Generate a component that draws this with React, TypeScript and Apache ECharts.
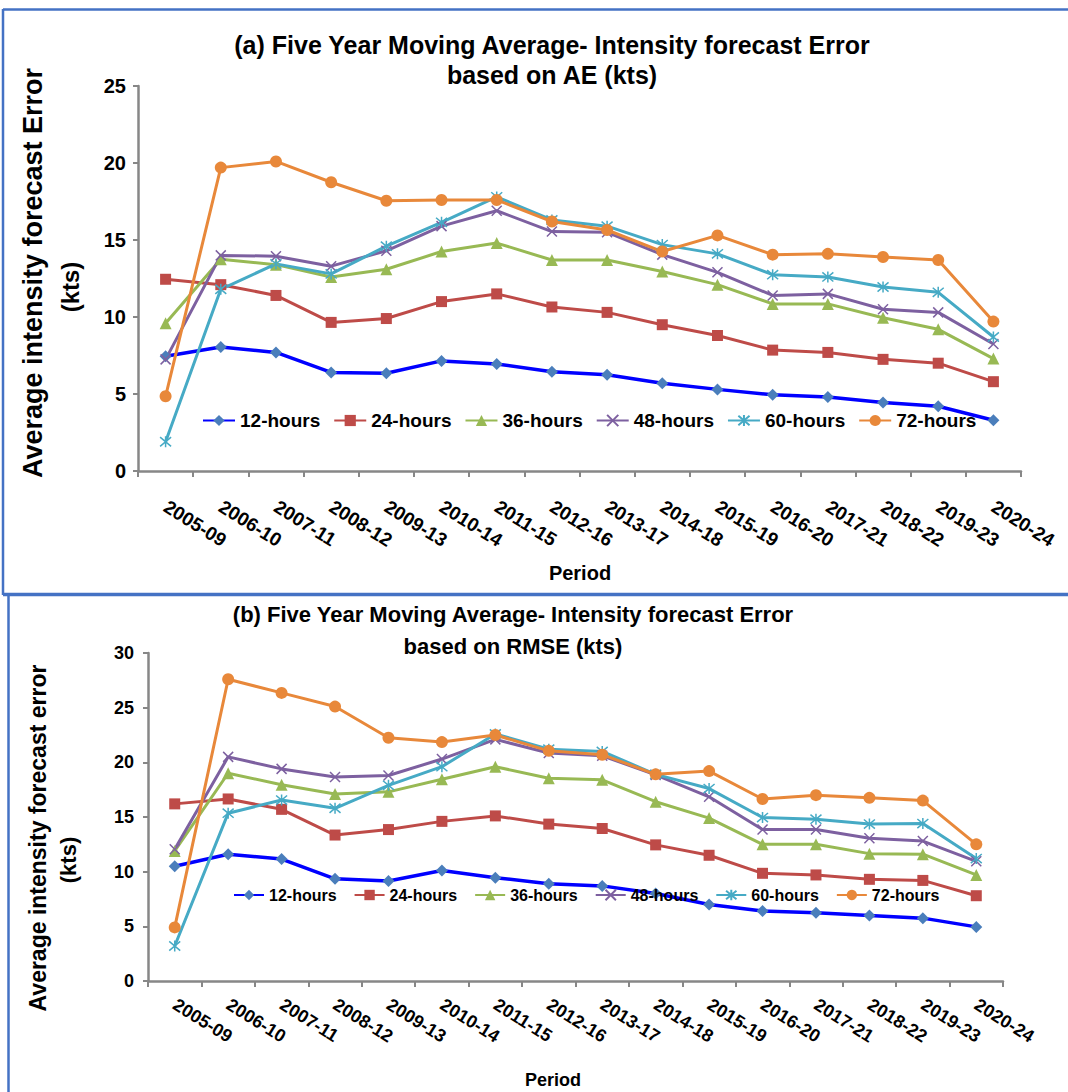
import React, { useEffect, useRef } from 'react';
import * as echarts from 'echarts';

const periods = ['2005-09', '2006-10', '2007-11', '2008-12', '2009-13', '2010-14', '2011-15', '2012-16',
  '2013-17', '2014-18', '2015-19', '2016-20', '2017-21', '2018-22', '2019-23', '2020-24'];
const seriesNames = ['12-hours', '24-hours', '36-hours', '48-hours', '60-hours', '72-hours'];

// (a) AE
const ae12 = [7.45, 8.05, 7.7, 6.4, 6.35, 7.15, 6.95, 6.45, 6.25, 5.7, 5.3, 4.95, 4.8, 4.45, 4.2, 3.3];
const ae24 = [12.45, 12.1, 11.4, 9.65, 9.9, 11.0, 11.5, 10.65, 10.3, 9.5, 8.8, 7.85, 7.7, 7.25, 7.0, 5.8];
const ae36 = [9.6, 13.75, 13.4, 12.6, 13.1, 14.25, 14.8, 13.7, 13.7, 12.95, 12.1, 10.85, 10.85, 9.95, 9.2, 7.3];
const ae48 = [7.25, 14.0, 13.95, 13.3, 14.3, 15.9, 16.9, 15.55, 15.5, 14.05, 12.9, 11.4, 11.5, 10.5, 10.3, 8.25];
const ae60 = [1.9, 11.8, 13.45, 12.8, 14.6, 16.15, 17.8, 16.3, 15.9, 14.7, 14.1, 12.75, 12.6, 11.95, 11.6, 8.7];
const ae72 = [4.85, 19.7, 20.1, 18.75, 17.55, 17.6, 17.6, 16.2, 15.65, 14.25, 15.3, 14.05, 14.1, 13.9, 13.7, 9.7];

// (b) RMSE
const rm12 = [10.5, 11.6, 11.15, 9.35, 9.15, 10.1, 9.45, 8.9, 8.7, 8.0, 7.0, 6.4, 6.25, 6.0, 5.75, 4.95];
const rm24 = [16.2, 16.65, 15.7, 13.35, 13.85, 14.6, 15.1, 14.35, 13.95, 12.45, 11.5, 9.85, 9.7, 9.3, 9.2, 7.8];
const rm36 = [11.9, 19.0, 17.95, 17.1, 17.3, 18.45, 19.6, 18.55, 18.4, 16.4, 14.9, 12.5, 12.5, 11.65, 11.6, 9.7];
const rm48 = [12.05, 20.5, 19.4, 18.65, 18.8, 20.3, 22.1, 20.85, 20.6, 18.85, 16.85, 13.85, 13.85, 13.05, 12.8, 10.95];
const rm60 = [3.2, 15.35, 16.55, 15.8, 17.9, 19.6, 22.6, 21.2, 21.0, 18.9, 17.6, 14.95, 14.8, 14.35, 14.4, 11.2];
const rm72 = [4.9, 27.6, 26.35, 25.1, 22.25, 21.85, 22.5, 21.05, 20.7, 18.9, 19.2, 16.65, 17.0, 16.75, 16.5, 12.5];

const aeTicks = [0, 5, 10, 15, 20, 25];
const rmTicks = [0, 5, 10, 15, 20, 25, 30];

const FONT = "'Liberation Sans', Arial, sans-serif";
const X_PATH = 'path://M0,0L10,10M10,0L0,10';
const STAR_PATH = 'path://M0,1L10,11M10,1L0,11M5,0L5,12';

const styles = [
  { line: '#0000FF', mark: '#4A7EBB', symbol: 'diamond', size: 12, width: 3.5, stroke: false },
  { line: '#BE4B48', mark: '#BE4B48', symbol: 'rect', size: 11, width: 3, stroke: false },
  { line: '#98B954', mark: '#98B954', symbol: 'triangle', size: 12, width: 3, stroke: false },
  { line: '#7D60A0', mark: '#7D60A0', symbol: X_PATH, size: 10, width: 3, stroke: true },
  { line: '#46AAC5', mark: '#46AAC5', symbol: STAR_PATH, size: 11, width: 3, stroke: true },
  { line: '#E8883A', mark: '#E8883A', symbol: 'circle', size: 12, width: 3, stroke: false },
];

function buildSeries(gridIdx: number, datasets: number[][]) {
  return datasets.map((d, i) => {
    const s = styles[i];
    return {
      type: 'line',
      name: seriesNames[i],
      xAxisIndex: gridIdx,
      yAxisIndex: gridIdx,
      data: d,
      symbol: s.symbol,
      symbolSize: s.size,
      showAllSymbol: true,
      lineStyle: { color: s.line, width: s.width },
      itemStyle: s.stroke
        ? { color: s.mark, borderColor: s.mark, borderWidth: 1.5 }
        : { color: s.mark, borderWidth: 0 },
      emphasis: { disabled: true },
    };
  });
}

function yAxis(gridIdx: number, ticks: number[], fontSize: number, margin: number) {
  return {
    type: 'value',
    gridIndex: gridIdx,
    min: ticks[0],
    max: ticks[ticks.length - 1],
    interval: ticks[1] - ticks[0],
    axisLine: { show: true, lineStyle: { color: '#878787', width: 2.5 } },
    axisTick: { show: true, length: 5, lineStyle: { color: '#878787', width: 2 } },
    splitLine: { show: false },
    axisLabel: { color: '#000', fontFamily: FONT, fontWeight: 'bold', fontSize, margin },
  };
}

function xAxis(gridIdx: number, fontSize: number, margin: number) {
  return {
    type: 'category',
    gridIndex: gridIdx,
    data: periods,
    boundaryGap: true,
    axisLine: { show: true, lineStyle: { color: '#878787', width: 2.5 } },
    axisTick: { show: true, length: 6, alignWithLabel: false, lineStyle: { color: '#878787', width: 2 } },
    axisLabel: { color: '#000', fontFamily: FONT, fontWeight: 'bold', fontSize, rotate: -32, margin, interval: 0 },
  };
}

function vText(x: number, y: number, text: string, size: number) {
  return {
    type: 'text',
    x, y,
    rotation: Math.PI / 2,
    style: {
      text, fill: '#000', font: `bold ${size}px ${FONT}`,
      align: 'center', verticalAlign: 'middle', textAlign: 'center', textVerticalAlign: 'middle',
    },
  };
}

function hText(x: number, y: number, text: string, size: number) {
  return {
    type: 'text',
    x, y,
    style: {
      text, fill: '#000', font: `bold ${size}px ${FONT}`,
      align: 'center', verticalAlign: 'middle', textAlign: 'center', textVerticalAlign: 'middle',
    },
  };
}

export default function App() {
  const ref = useRef<HTMLDivElement>(null);
  useEffect(() => {
    if (!ref.current) return;
    const chart = echarts.init(ref.current, undefined, { renderer: 'svg' });
    const option = {
      animation: false,
      backgroundColor: '#fff',
      title: [
        {
          text: '(a) Five Year Moving Average- Intensity forecast Error\nbased on AE (kts)',
          left: 552, top: 30, textAlign: 'center',
          textStyle: { fontFamily: FONT, fontWeight: 'bold', fontSize: 25, lineHeight: 30, color: '#000' },
          padding: 0,
        },
        {
          text: '(b) Five Year Moving Average- Intensity forecast Error\nbased on RMSE (kts)',
          left: 513, top: 598, textAlign: 'center',
          textStyle: { fontFamily: FONT, fontWeight: 'bold', fontSize: 22, lineHeight: 32, color: '#000' },
          padding: 0,
        },
      ],
      legend: [
        {
          data: seriesNames, left: 202, top: 411, padding: 0, selectedMode: false,
          itemWidth: 32, itemHeight: 14, itemGap: 13,
          textStyle: { fontFamily: FONT, fontWeight: 'bold', fontSize: 19, color: '#000' },
        },
        {
          data: seriesNames, left: 233, top: 887, padding: 0, selectedMode: false,
          itemWidth: 30, itemHeight: 13, itemGap: 17,
          textStyle: { fontFamily: FONT, fontWeight: 'bold', fontSize: 16, color: '#000' },
        },
      ],
      grid: [
        { left: 138, top: 86, width: 883, height: 385, containLabel: false },
        { left: 148, top: 653, width: 855, height: 328, containLabel: false },
      ],
      xAxis: [xAxis(0, 19, 34), xAxis(1, 18, 22)],
      yAxis: [yAxis(0, aeTicks, 20, 12), yAxis(1, rmTicks, 18, 14)],
      series: [...buildSeries(0, [ae12, ae24, ae36, ae48, ae60, ae72]), ...buildSeries(1, [rm12, rm24, rm36, rm48, rm60, rm72])],
      graphic: [
        { type: 'line', shape: { x1: 3, y1: 9.5, x2: 1068, y2: 9.5 }, style: { stroke: '#4472C4', lineWidth: 2.5 } },
        { type: 'line', shape: { x1: 3, y1: 9, x2: 3, y2: 595 }, style: { stroke: '#4472C4', lineWidth: 2.5 } },
        { type: 'line', shape: { x1: 3, y1: 594.5, x2: 1068, y2: 594.5 }, style: { stroke: '#4472C4', lineWidth: 3.5 } },
        { type: 'line', shape: { x1: 8.5, y1: 595, x2: 8.5, y2: 1092 }, style: { stroke: '#4472C4', lineWidth: 2.5 } },
        vText(33, 273, 'Average intensity forecast Error', 27),
        vText(70, 287, '(kts)', 24),
        vText(38, 838, 'Average intensity forecast error', 23),
        vText(68, 860, '(kts)', 22),
        hText(580, 573, 'Period', 20),
        hText(553, 1080, 'Period', 18),
      ],
    };
    chart.setOption(option as any);
    return () => chart.dispose();
  }, []);
  return <div ref={ref} style={{ position: 'absolute', left: 0, top: 0, width: 1068, height: 1092, background: '#fff' }} />;
}
